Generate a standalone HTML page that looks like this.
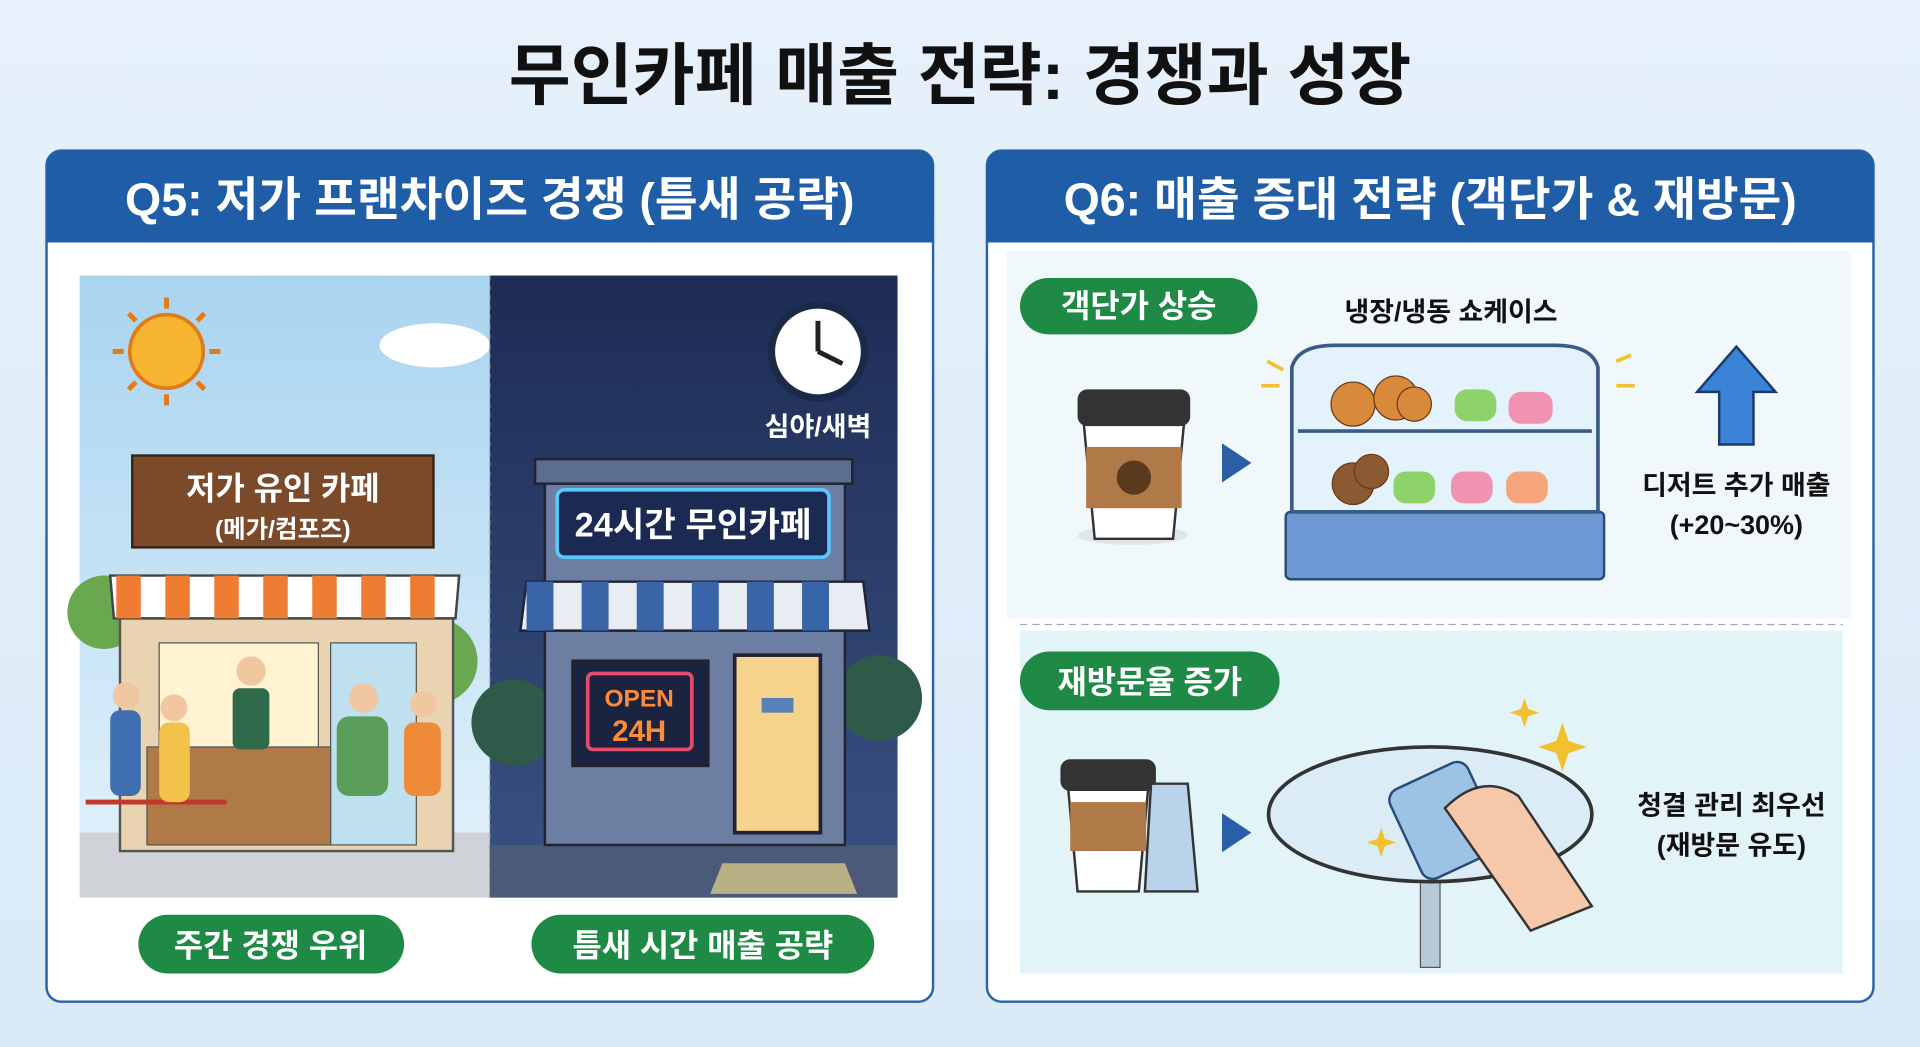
<!DOCTYPE html>
<html><head><meta charset="utf-8"><style>
html,body{margin:0;padding:0;background:#e4f0fa;}
svg{display:block;}
text{font-family:"Liberation Sans","Noto Sans CJK KR",sans-serif;font-weight:bold;}
</style></head><body>
<svg width="1920" height="1047" viewBox="0 0 1568 855" xmlns="http://www.w3.org/2000/svg">
<defs>
<linearGradient id="bg" x1="0" y1="0" x2="0" y2="1"><stop offset="0" stop-color="#e6f1fb"/><stop offset="1" stop-color="#d9eaf7"/></linearGradient>
<linearGradient id="sky" x1="0" y1="0" x2="0" y2="1"><stop offset="0" stop-color="#a9d4f0"/><stop offset="1" stop-color="#e4f2fb"/></linearGradient>
<linearGradient id="night" x1="0" y1="0" x2="0" y2="1"><stop offset="0" stop-color="#1d2c55"/><stop offset="1" stop-color="#3b5282"/></linearGradient>
</defs>
<rect width="1568" height="855" fill="url(#bg)"/>
<text x="784" y="81" font-size="55" text-anchor="middle" fill="#111">무인카페 매출 전략: 경쟁과 성장</text>

<!-- Left panel -->
<rect x="38" y="123" width="724" height="695" rx="12" fill="#fff" stroke="#2a63a8" stroke-width="2"/>
<path d="M38 198 V135 a12 12 0 0 1 12 -12 H750 a12 12 0 0 1 12 12 V198 Z" fill="#1f5ea6"/>
<text x="400" y="176" font-size="38" text-anchor="middle" fill="#fff">Q5: 저가 프랜차이즈 경쟁 (틈새 공략)</text>

<!-- day side -->
<rect x="65" y="225" width="335" height="508" fill="url(#sky)"/>
<circle cx="136" cy="287" r="30" fill="#f5b531" stroke="#e07a1a" stroke-width="3"/>
<g stroke="#e07a1a" stroke-width="4"><line x1="136" y1="243" x2="136" y2="252"/><line x1="136" y1="322" x2="136" y2="331"/><line x1="92" y1="287" x2="101" y2="287"/><line x1="171" y1="287" x2="180" y2="287"/><line x1="105" y1="256" x2="111" y2="262"/><line x1="161" y1="312" x2="167" y2="318"/><line x1="167" y1="256" x2="161" y2="262"/><line x1="105" y1="318" x2="111" y2="312"/></g>
<ellipse cx="355" cy="282" rx="45" ry="18" fill="#fff"/>
<rect x="65" y="680" width="335" height="53" fill="#cfd3d8"/>
<circle cx="85" cy="500" r="30" fill="#6aa84f"/><circle cx="355" cy="540" r="35" fill="#6aa84f"/>
<rect x="98" y="500" width="272" height="195" fill="#e9d3b0" stroke="#555" stroke-width="2"/>
<path d="M90 470 L375 470 L372 505 L93 505 Z" fill="#fff" stroke="#444" stroke-width="2"/>
<g fill="#ef7c33"><rect x="95" y="470" width="20" height="35"/><rect x="135" y="470" width="20" height="35"/><rect x="175" y="470" width="20" height="35"/><rect x="215" y="470" width="20" height="35"/><rect x="255" y="470" width="20" height="35"/><rect x="295" y="470" width="20" height="35"/><rect x="335" y="470" width="20" height="35"/></g>
<rect x="108" y="372" width="246" height="75" fill="#7a4a2a" stroke="#3a2414" stroke-width="2"/>
<text x="231" y="408" font-size="26" text-anchor="middle" fill="#fff">저가 유인 카페</text>
<text x="231" y="439" font-size="20" text-anchor="middle" fill="#fff">(메가/컴포즈)</text>
<rect x="130" y="525" width="130" height="100" fill="#fff3d2" stroke="#555"/>
<rect x="270" y="525" width="70" height="165" fill="#bfe0ef" stroke="#555"/>
<rect x="120" y="610" width="150" height="80" fill="#b07a48" stroke="#555"/>
<line x1="70" y1="655" x2="185" y2="655" stroke="#c0392b" stroke-width="4"/>
<g fill="#3f6fb0"><rect x="90" y="580" width="25" height="70" rx="8"/><rect x="130" y="590" width="25" height="65" rx="8" fill="#f2c24a"/><rect x="275" y="585" width="42" height="65" rx="10" fill="#5a9e5a"/><rect x="330" y="590" width="30" height="60" rx="8" fill="#ef8a3a"/></g>
<g fill="#f1c7a2"><circle cx="103" cy="568" r="11"/><circle cx="142" cy="578" r="11"/><circle cx="205" cy="548" r="12"/><circle cx="297" cy="570" r="12"/><circle cx="346" cy="575" r="11"/></g>
<rect x="190" y="562" width="30" height="50" rx="6" fill="#2f6a4a"/>

<!-- night side -->
<rect x="400" y="225" width="333" height="508" fill="url(#night)"/>
<line x1="400" y1="225" x2="400" y2="733" stroke="#9aa" stroke-dasharray="4 4"/>
<circle cx="668" cy="287" r="38" fill="#fff" stroke="#1a2a48" stroke-width="6"/>
<line x1="668" y1="287" x2="668" y2="262" stroke="#222" stroke-width="4"/><line x1="668" y1="287" x2="688" y2="297" stroke="#222" stroke-width="4"/>
<text x="668" y="356" font-size="22" text-anchor="middle" fill="#fff">심야/새벽</text>
<rect x="400" y="690" width="333" height="43" fill="#4a5a78"/>
<circle cx="420" cy="590" r="35" fill="#2f5a4a"/><circle cx="718" cy="570" r="35" fill="#2f5a4a"/>
<rect x="437" y="375" width="259" height="20" fill="#5b6e90" stroke="#223" stroke-width="2"/>
<rect x="445" y="395" width="245" height="295" fill="#6c7fa3" stroke="#223" stroke-width="2"/>
<rect x="455" y="400" width="222" height="55" rx="6" fill="#1b2a52" stroke="#58c8ff" stroke-width="3"/>
<text x="566" y="438" font-size="28" text-anchor="middle" fill="#fff">24시간 무인카페</text>
<path d="M430 475 L705 475 L710 515 L425 515 Z" fill="#e8ecf3" stroke="#223" stroke-width="2"/>
<g fill="#3a64a8"><rect x="430" y="475" width="22" height="40"/><rect x="475" y="475" width="22" height="40"/><rect x="520" y="475" width="22" height="40"/><rect x="565" y="475" width="22" height="40"/><rect x="610" y="475" width="22" height="40"/><rect x="655" y="475" width="22" height="40"/></g>
<rect x="468" y="540" width="110" height="85" fill="#1a2440" stroke="#223" stroke-width="3"/>
<rect x="480" y="550" width="85" height="62" rx="4" fill="none" stroke="#e84a6a" stroke-width="3"/>
<text x="522" y="577" font-size="20" text-anchor="middle" fill="#ff8a3a">OPEN</text>
<text x="522" y="605" font-size="24" text-anchor="middle" fill="#ff8a3a">24H</text>
<rect x="600" y="535" width="70" height="145" fill="#f6d38a" stroke="#223" stroke-width="3"/>
<rect x="622" y="570" width="26" height="12" fill="#5b7fb8"/>
<path d="M590 705 L690 705 L700 730 L580 730 Z" fill="#e8d58a" opacity="0.7"/>

<rect x="113" y="747" width="217" height="48" rx="24" fill="#1f8a46"/>
<text x="221" y="781" font-size="26" text-anchor="middle" fill="#fff">주간 경쟁 우위</text>
<rect x="434" y="747" width="280" height="48" rx="24" fill="#1f8a46"/>
<text x="574" y="781" font-size="26" text-anchor="middle" fill="#fff">틈새 시간 매출 공략</text>

<!-- Right panel -->
<rect x="806" y="123" width="724" height="695" rx="12" fill="#fff" stroke="#2a63a8" stroke-width="2"/>
<path d="M806 198 V135 a12 12 0 0 1 12 -12 H1518 a12 12 0 0 1 12 12 V198 Z" fill="#1f5ea6"/>
<text x="1168" y="176" font-size="38" text-anchor="middle" fill="#fff">Q6: 매출 증대 전략 (객단가 &amp; 재방문)</text>
<rect x="822" y="205" width="690" height="300" fill="#f1f8fc"/>
<line x1="833" y1="510" x2="1505" y2="510" stroke="#9ab" stroke-dasharray="6 4"/>
<rect x="833" y="515" width="672" height="280" fill="#e3f4f8"/>

<rect x="833" y="227" width="194" height="46" rx="23" fill="#1f8a46"/>
<text x="930" y="259" font-size="26" text-anchor="middle" fill="#fff">객단가 상승</text>
<text x="1185" y="262" font-size="22" text-anchor="middle" fill="#111">냉장/냉동 쇼케이스</text>
<ellipse cx="925" cy="437" rx="45" ry="8" fill="#dfe6ea"/>
<path d="M885 345 L967 345 L958 440 L894 440 Z" fill="#fff" stroke="#333" stroke-width="2"/>
<rect x="880" y="318" width="92" height="30" rx="8" fill="#333"/>
<rect x="887" y="365" width="78" height="50" fill="#b07a48"/>
<circle cx="926" cy="390" r="14" fill="#5a3a1f"/>
<path d="M998 362 L1022 378 L998 394 Z" fill="#2a5fa8"/>
<rect x="1050" y="418" width="260" height="55" rx="4" fill="#6d9ad4" stroke="#2a4a7a" stroke-width="2"/>
<path d="M1055 418 L1055 300 Q1060 282 1090 282 L1270 282 Q1300 282 1305 300 L1305 418 Z" fill="#e3f2fb" stroke="#3a5a8a" stroke-width="3"/>
<line x1="1060" y1="352" x2="1300" y2="352" stroke="#3a5a8a" stroke-width="3"/>
<g fill="#d88a3a" stroke="#6a3a1a"><circle cx="1105" cy="330" r="18"/><circle cx="1140" cy="325" r="18"/><circle cx="1155" cy="330" r="14"/><circle cx="1105" cy="395" r="17" fill="#8a5a32"/><circle cx="1120" cy="385" r="14" fill="#8a5a32"/></g>
<g><rect x="1188" y="318" width="34" height="26" rx="10" fill="#8ed36a"/><rect x="1232" y="320" width="36" height="26" rx="10" fill="#f092b0"/><rect x="1138" y="385" width="34" height="26" rx="10" fill="#8ed36a"/><rect x="1185" y="385" width="34" height="26" rx="10" fill="#f092b0"/><rect x="1230" y="385" width="34" height="26" rx="10" fill="#f5a47c"/></g>
<g stroke="#f2c12e" stroke-width="3"><line x1="1035" y1="295" x2="1048" y2="302"/><line x1="1030" y1="315" x2="1045" y2="315"/><line x1="1320" y1="295" x2="1332" y2="290"/><line x1="1320" y1="315" x2="1335" y2="315"/></g>
<path d="M1418 283 L1450 320 L1432 320 L1432 363 L1404 363 L1404 320 L1386 320 Z" fill="#3b83d6" stroke="#1a3a6a" stroke-width="2"/>
<text x="1418" y="404" font-size="22" text-anchor="middle" fill="#111">디저트 추가 매출</text>
<text x="1418" y="436" font-size="22" text-anchor="middle" fill="#111">(+20~30%)</text>

<rect x="833" y="532" width="212" height="48" rx="24" fill="#1f8a46"/>
<text x="939" y="566" font-size="26" text-anchor="middle" fill="#fff">재방문율 증가</text>
<path d="M872 640 L938 640 L930 728 L880 728 Z" fill="#fff" stroke="#333" stroke-width="2"/>
<rect x="866" y="620" width="78" height="26" rx="8" fill="#333"/>
<rect x="874" y="655" width="62" height="40" fill="#b07a48"/>
<path d="M940 640 L970 640 L978 728 L935 728 Z" fill="#b9d4ea" stroke="#333" stroke-width="2"/>
<path d="M998 664 L1022 680 L998 696 Z" fill="#2a5fa8"/>
<rect x="1160" y="700" width="16" height="90" fill="#b9c8d8" stroke="#555"/>
<ellipse cx="1168" cy="665" rx="132" ry="55" fill="#dcecf6" stroke="#333" stroke-width="3"/>
<rect x="1145" y="630" width="70" height="80" rx="10" fill="#9cc3e4" stroke="#2a4a7a" stroke-width="2" transform="rotate(-25 1180 670)"/>
<path d="M1180 660 Q1210 630 1240 650 L1300 740 L1250 760 Z" fill="#f6c7a8" stroke="#333" stroke-width="2"/>
<g fill="#f2c12e"><path d="M1276 590 l5 15 l15 5 l-15 5 l-5 15 l-5 -15 l-15 -5 l15 -5z"/><path d="M1245 570 l3 9 l9 3 l-9 3 l-3 9 l-3 -9 l-9 -3 l9 -3z"/><path d="M1128 676 l3 9 l9 3 l-9 3 l-3 9 l-3 -9 l-9 -3 l9 -3z"/></g>
<text x="1414" y="665" font-size="22" text-anchor="middle" fill="#111">청결 관리 최우선</text>
<text x="1414" y="698" font-size="22" text-anchor="middle" fill="#111">(재방문 유도)</text>
</svg>
</body></html>
